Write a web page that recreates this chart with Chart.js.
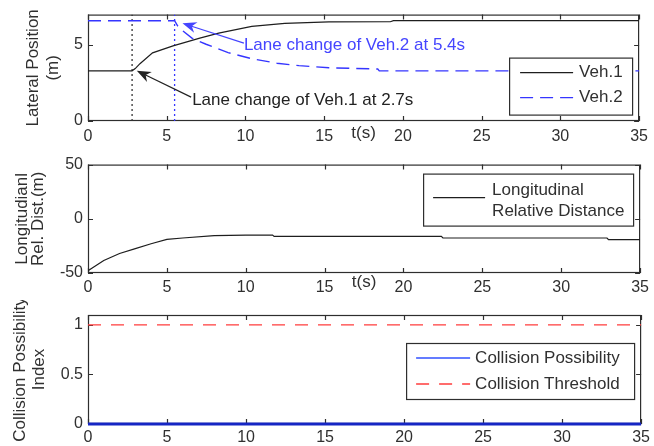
<!DOCTYPE html>
<html>
<head>
<meta charset="utf-8">
<script src="https://cdn.jsdelivr.net/npm/chart.js@4.4.1/dist/chart.umd.min.js"></script>
<style>
    body { margin: 0; background: #fff; }
    #wrap { position: relative; width: 654px; height: 446px; overflow: hidden; }
    #wrap canvas { position: absolute; left: 0; }
</style>
</head>
<body>
<div id="wrap">
    <canvas id="lateralChart" width="654" height="150" style="top:0px"></canvas>
    <canvas id="distanceChart" width="654" height="150" style="top:150px"></canvas>
    <canvas id="collisionChart" width="654" height="146" style="top:300px"></canvas>
</div>
<script>
// lateral position of the two vehicles (m)
const veh1Time = [0, 2.8, 3.0, 3.3, 4.1, 5.4, 7.1, 8.3, 10.4, 12.5, 15.3, 19.2, 19.4, 35];
const veh1Pos = [3.3, 3.3, 3.45, 3.77, 4.48, 4.94, 5.45, 5.78, 6.23, 6.42, 6.52, 6.53, 6.6, 6.6];
const veh2Time = [0, 5.5, 5.7, 6.0, 6.6, 7.5, 8.9, 10.4, 12, 13.4, 15.3, 18.4, 18.5, 35];
const veh2Pos = [6.6, 6.6, 6.25, 5.95, 5.45, 5.05, 4.5, 4.1, 3.8, 3.64, 3.5, 3.42, 3.3, 3.3];
const laneChangeTimes = [2.8, 5.5];

// longitudinal relative distance (m)
const distTime = [0, 1, 2, 3, 4, 5, 6, 8, 10, 11.7, 11.8, 22.4, 22.5, 32.9, 33, 35];
const distValue = [-48, -38.5, -32, -27.5, -23, -19, -17.7, -15.6, -15, -15, -16.2, -16.2, -17.7, -17.7, -19.3, -19.3];

// collision possibility index
const collisionTime = [0, 1.2, 35];
const collisionValue = [0, 0, 0];
const thresholdTime = [0, 35];
const thresholdValue = [1, 1];

const FONT = "'Liberation Sans', Arial, sans-serif";
const TEXT_COLOR = '#303030';

function toPoints(xs, ys) {
    return xs.map((x, i) => ({ x: x, y: ys[i] }));
}

// box around the plot with inward ticks (matlab style)
const framePlugin = {
    id: 'frame',
    beforeDatasetsDraw(chart) {
        const { ctx, chartArea: a, scales } = chart;
        ctx.save();
        ctx.strokeStyle = '#2e2e2e';
        ctx.lineWidth = 1.2;
        ctx.strokeRect(a.left + 0.5, a.top + 0.5, a.right - a.left - 1, a.bottom - a.top - 1);
        ctx.beginPath();
        scales.x.ticks.forEach(t => {
            const px = Math.round(scales.x.getPixelForValue(t.value)) + 0.5;
            ctx.moveTo(px, a.bottom); ctx.lineTo(px, a.bottom - 5);
            ctx.moveTo(px, a.top); ctx.lineTo(px, a.top + 5);
        });
        scales.y.ticks.forEach(t => {
            const py = Math.round(scales.y.getPixelForValue(t.value)) + 0.5;
            ctx.moveTo(a.left, py); ctx.lineTo(a.left + 5, py);
            ctx.moveTo(a.right, py); ctx.lineTo(a.right - 5, py);
        });
        ctx.stroke();
        ctx.restore();
    }
};

function makeLegend(cfg) {
    return {
        id: 'boxLegend',
        afterDatasetsDraw(chart) {
            const { ctx, chartArea: a } = chart;
            const x0 = a.right - cfg.right - cfg.width;
            const y0 = a.top + cfg.top;
            ctx.save();
            ctx.fillStyle = '#fff';
            ctx.fillRect(x0, y0, cfg.width, cfg.height);
            ctx.strokeStyle = '#2e2e2e';
            ctx.lineWidth = 1.2;
            ctx.strokeRect(x0 + 0.5, y0 + 0.5, cfg.width, cfg.height);
            cfg.items.forEach(item => {
                const ds = chart.data.datasets[item.dataset];
                ctx.strokeStyle = item.color || ds.borderColor;
                ctx.lineWidth = Math.min(ds.borderWidth, 1.6);
                ctx.setLineDash(ds.borderDash || []);
                ctx.beginPath();
                ctx.moveTo(x0 + cfg.lineStart, y0 + item.y);
                ctx.lineTo(x0 + cfg.lineEnd, y0 + item.y);
                ctx.stroke();
                ctx.setLineDash([]);
                ctx.fillStyle = TEXT_COLOR;
                ctx.font = '17px ' + FONT;
                ctx.textBaseline = 'middle';
                item.lines.forEach(l => ctx.fillText(l.text, x0 + cfg.textX, y0 + l.y));
            });
            ctx.restore();
        }
    };
}

const arrowNotes = [
    { text: 'Lane change of Veh.2 at 5.4s', color: '#4545ff', from: [9.9, 5.12], to: [6.0, 6.43], dx: 0, dy: 2 },
    { text: 'Lane change of Veh.1 at 2.7s', color: '#222222', from: [6.55, 1.57], to: [3.1, 3.3], dx: 1, dy: 3 }
];

const arrowPlugin = {
    id: 'arrows',
    afterDatasetsDraw(chart) {
        const { ctx, scales: { x, y } } = chart;
        ctx.save();
        arrowNotes.forEach(n => {
            const x1 = x.getPixelForValue(n.from[0]), y1 = y.getPixelForValue(n.from[1]);
            const x2 = x.getPixelForValue(n.to[0]), y2 = y.getPixelForValue(n.to[1]);
            const ang = Math.atan2(y2 - y1, x2 - x1);
            ctx.strokeStyle = n.color;
            ctx.fillStyle = n.color;
            ctx.lineWidth = 1.2;
            ctx.beginPath();
            ctx.moveTo(x1, y1);
            ctx.lineTo(x2 - 8 * Math.cos(ang), y2 - 8 * Math.sin(ang));
            ctx.stroke();
            // notched arrow head
            const len = 14, half = 5.5;
            const bx = x2 - len * Math.cos(ang), by = y2 - len * Math.sin(ang);
            const nx = x2 - len * 0.7 * Math.cos(ang), ny = y2 - len * 0.7 * Math.sin(ang);
            ctx.beginPath();
            ctx.moveTo(x2, y2);
            ctx.lineTo(bx + half * Math.sin(ang), by - half * Math.cos(ang));
            ctx.lineTo(nx, ny);
            ctx.lineTo(bx - half * Math.sin(ang), by + half * Math.cos(ang));
            ctx.closePath();
            ctx.fill();
            ctx.font = '17px ' + FONT;
            ctx.textBaseline = 'middle';
            ctx.fillText(n.text, x1 + n.dx, y1 + n.dy);
        });
        ctx.restore();
    }
};

function makeChart(id, datasets, o, extraPlugins) {
    const tickFont = { family: FONT, size: 16 };
    return new Chart(document.getElementById(id), {
        type: 'line',
        data: { datasets: datasets },
        options: {
            responsive: false,
            animation: false,
            devicePixelRatio: 1,
            layout: { padding: { top: o.padTop, bottom: o.padBottom, left: 0, right: 11 } },
            elements: { point: { radius: 0 }, line: { tension: 0 } },
            plugins: { legend: { display: false }, tooltip: { enabled: false } },
            scales: {
                x: {
                    type: 'linear', min: 0, max: 35,
                    ticks: { stepSize: 5, padding: o.xTickPad, color: TEXT_COLOR, font: tickFont, maxRotation: 0 },
                    grid: { display: false, drawTicks: false },
                    border: { display: false },
                    title: {
                        display: !!o.xTitle, text: o.xTitle || '', color: TEXT_COLOR,
                        font: { family: FONT, size: 17 }, padding: { top: 0, bottom: o.xTitlePad || 0 }
                    },
                    afterFit: s => { s.height = o.xHeight; }
                },
                y: {
                    type: 'linear', min: o.yMin, max: o.yMax,
                    ticks: {
                        stepSize: o.yStep, includeBounds: false, padding: 5, color: TEXT_COLOR, font: tickFont,
                        callback: v => String(Math.round(v * 100) / 100)
                    },
                    grid: { display: false, drawTicks: false },
                    border: { display: false },
                    title: {
                        display: true, text: o.yTitle, color: TEXT_COLOR,
                        font: { family: FONT, size: 17, lineHeight: o.yTitleLine },
                        padding: { top: o.yTitlePad, bottom: 0 }
                    },
                    afterFit: s => { s.width = 88; }
                }
            }
        },
        plugins: [framePlugin].concat(extraPlugins)
    });
}

// top: lateral position
makeChart('lateralChart', [
    { label: 'Veh.1', data: toPoints(veh1Time, veh1Pos), borderColor: '#1e1e1e', borderWidth: 1.2 },
    { label: 'Veh.2', data: toPoints(veh2Time, veh2Pos), borderColor: '#3535ff', borderWidth: 1.4, borderDash: [13, 7] },
    { label: '', data: toPoints([laneChangeTimes[0], laneChangeTimes[0]], [0, 7]), borderColor: '#333', borderWidth: 1.3, borderDash: [2, 3] },
    { label: '', data: toPoints([laneChangeTimes[1], laneChangeTimes[1]], [0, 7]), borderColor: '#3535ff', borderWidth: 1.3, borderDash: [2, 3] }
], {
    padTop: 14, padBottom: 4, xHeight: 25, xTickPad: 6, xTitle: 't(s)', xTitlePad: 2,
    yMin: 0, yMax: 7, yStep: 5, yTitle: ['Lateral Position', '(m)'], yTitleLine: '20px', yTitlePad: 23
}, [arrowPlugin, makeLegend({
    right: 7, top: 43, width: 123, height: 57, lineStart: 11, lineEnd: 64, textX: 70,
    items: [
        { dataset: 0, y: 15, lines: [{ text: 'Veh.1', y: 15 }] },
        { dataset: 1, y: 40, lines: [{ text: 'Veh.2', y: 40 }] }
    ]
})]);

// middle: longitudinal relative distance
makeChart('distanceChart', [
    { label: 'Longitudinal Relative Distance', data: toPoints(distTime, distValue), borderColor: '#1e1e1e', borderWidth: 1.2 }
], {
    padTop: 14, padBottom: 2, xHeight: 25, xTickPad: 5, xTitle: 't(s)', xTitlePad: 5,
    yMin: -50, yMax: 50, yStep: 50, yTitle: ['Longitudianl', 'Rel. Dist.(m)'], yTitleLine: '16px', yTitlePad: 14
}, [makeLegend({
    right: 7, top: 9, width: 210, height: 52, lineStart: 10, lineEnd: 62, textX: 69,
    items: [
        { dataset: 0, y: 24, lines: [{ text: 'Longitudinal', y: 17 }, { text: 'Relative Distance', y: 38 }] }
    ]
})]);

// bottom: collision possibility index
makeChart('collisionChart', [
    {
        label: 'Collision Possibility', data: toPoints(collisionTime, collisionValue),
        borderColor: '#1626c4', borderWidth: 3, clip: 4
    },
    { label: 'Collision Threshold', data: toPoints(thresholdTime, thresholdValue), borderColor: '#ff3d3d', borderWidth: 1.4, borderDash: [13, 10] }
], {
    padTop: 15, padBottom: 0, xHeight: 22, xTickPad: 4,
    yMin: 0, yMax: 1.1, yStep: 0.5, yTitle: ['Collision Possibility', 'Index'], yTitleLine: '19px', yTitlePad: 10.5
}, [makeLegend({
    right: 7, top: 28, width: 228, height: 56, lineStart: 10, lineEnd: 64, textX: 69,
    items: [
        { dataset: 0, y: 15, color: '#3050ff', lines: [{ text: 'Collision Possibility', y: 15 }] },
        { dataset: 1, y: 41, lines: [{ text: 'Collision Threshold', y: 41 }] }
    ]
})]);
</script>
</body>
</html>
